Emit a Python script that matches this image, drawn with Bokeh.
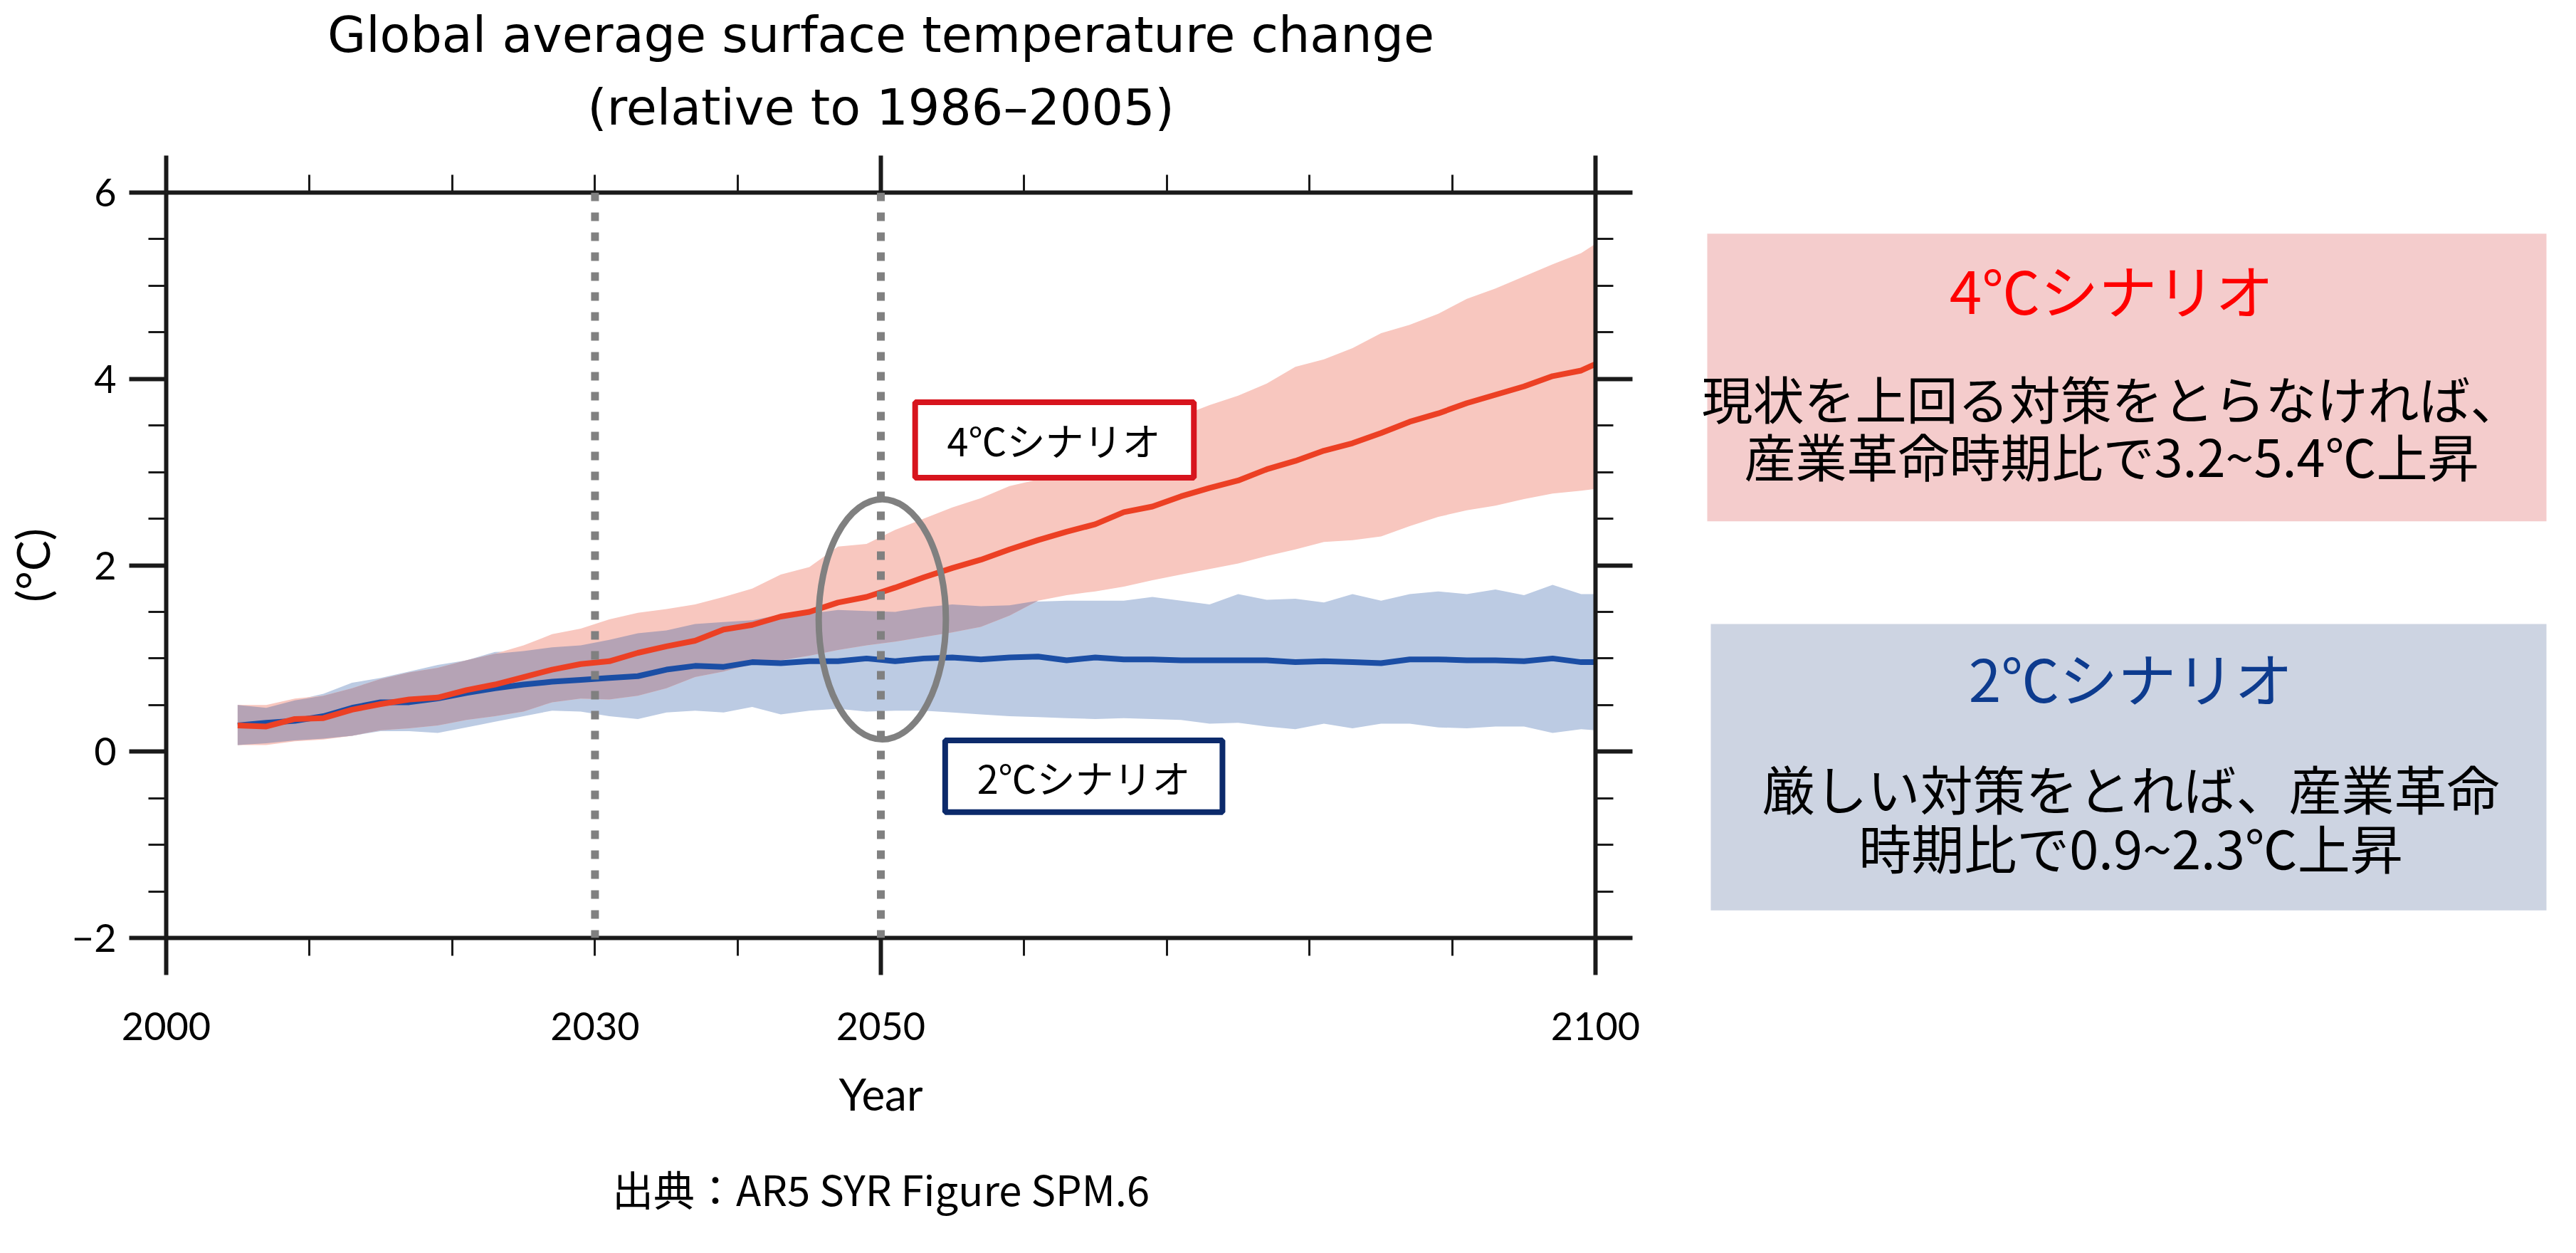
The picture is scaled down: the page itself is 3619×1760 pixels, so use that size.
import numpy as np
from bokeh.plotting import figure
from bokeh.models import (Range1d, LinearAxis, FixedTicker, Span, Label, Title,
                          BoxAnnotation, CustomJSTickFormatter)
from bokeh.layouts import row
from bokeh.embed import file_html
from bokeh.resources import INLINE

# ---------------- data ----------------
years = [2005, 2007, 2009, 2011, 2013, 2015, 2017, 2019, 2021, 2023, 2025, 2027, 2029,
         2031, 2033, 2035, 2037, 2039, 2041, 2043, 2045, 2047, 2049,
         2051, 2053, 2055, 2057, 2059, 2061, 2063, 2065, 2067, 2069,
         2071, 2073, 2075, 2077, 2079, 2081, 2083, 2085, 2087, 2089,
         2091, 2093, 2095, 2097, 2099, 2100]

rcp85_mean = [0.28, 0.27, 0.35, 0.36, 0.45, 0.51, 0.56, 0.58, 0.66, 0.72, 0.80, 0.88, 0.94,
              0.97, 1.06, 1.13, 1.19, 1.31, 1.36, 1.45, 1.50, 1.60, 1.66,
              1.76, 1.87, 1.97, 2.06, 2.17, 2.27, 2.36, 2.44, 2.57, 2.63,
              2.74, 2.83, 2.91, 3.03, 3.12, 3.23, 3.31, 3.42, 3.54, 3.63,
              3.74, 3.83, 3.92, 4.03, 4.09, 4.16]
rcp85_upper = [0.50, 0.50, 0.57, 0.60, 0.68, 0.78, 0.85, 0.90, 0.98, 1.05, 1.14, 1.26, 1.32,
               1.42, 1.49, 1.53, 1.58, 1.66, 1.75, 1.90, 1.98, 2.20, 2.23,
               2.38, 2.50, 2.62, 2.72, 2.85, 2.92, 3.05, 3.18, 3.30, 3.43,
               3.60, 3.72, 3.82, 3.95, 4.13, 4.21, 4.33, 4.49, 4.58, 4.70,
               4.86, 4.97, 5.10, 5.23, 5.35, 5.45]
rcp85_lower = [0.07, 0.07, 0.11, 0.13, 0.17, 0.23, 0.25, 0.28, 0.34, 0.38, 0.43, 0.53, 0.57,
               0.56, 0.60, 0.68, 0.80, 0.86, 0.94, 0.98, 1.03, 1.09, 1.14,
               1.18, 1.23, 1.28, 1.34, 1.46, 1.62, 1.68, 1.72, 1.77, 1.84,
               1.90, 1.96, 2.02, 2.10, 2.17, 2.25, 2.27, 2.31, 2.42, 2.52,
               2.59, 2.64, 2.71, 2.77, 2.80, 2.82]

rcp26_mean = [0.28, 0.31, 0.33, 0.38, 0.47, 0.53, 0.53, 0.57, 0.63, 0.68, 0.72, 0.75, 0.77,
              0.79, 0.81, 0.88, 0.92, 0.91, 0.96, 0.95, 0.97, 0.97, 1.00,
              0.97, 1.00, 1.01, 0.99, 1.01, 1.02, 0.98, 1.01, 0.99, 0.99,
              0.98, 0.98, 0.98, 0.98, 0.96, 0.97, 0.96, 0.95, 0.99, 0.99,
              0.98, 0.98, 0.97, 1.00, 0.96, 0.96]
rcp26_upper = [0.50, 0.47, 0.55, 0.62, 0.74, 0.79, 0.86, 0.93, 0.98, 1.07, 1.08, 1.12, 1.14,
               1.20, 1.27, 1.30, 1.37, 1.39, 1.41, 1.47, 1.48, 1.52, 1.51,
               1.50, 1.55, 1.58, 1.56, 1.57, 1.61, 1.62, 1.62, 1.62, 1.66,
               1.62, 1.58, 1.69, 1.63, 1.64, 1.60, 1.69, 1.62, 1.69, 1.72,
               1.69, 1.74, 1.68, 1.79, 1.69, 1.69]
rcp26_lower = [0.07, 0.09, 0.12, 0.14, 0.17, 0.22, 0.22, 0.20, 0.26, 0.32, 0.38, 0.44, 0.43,
               0.38, 0.35, 0.42, 0.44, 0.42, 0.48, 0.40, 0.44, 0.46, 0.43,
               0.44, 0.44, 0.42, 0.40, 0.38, 0.37, 0.36, 0.35, 0.36, 0.35,
               0.34, 0.30, 0.31, 0.27, 0.24, 0.30, 0.25, 0.30, 0.30, 0.26,
               0.25, 0.27, 0.27, 0.20, 0.24, 0.23]

x_major_ticks = [2000, 2050, 2100]
x_minor_ticks = [2010, 2020, 2030, 2040, 2060, 2070, 2080, 2090]
x_label_ticks = [2000, 2030, 2050, 2100]
x_tick_labels = ["2000", "2030", "2050", "2100"]
y_major_ticks = [-2, 0, 2, 4, 6]
y_minor_ticks = [-1.5, -1, -0.5, 0.5, 1, 1.5, 2.5, 3, 3.5, 4.5, 5, 5.5]
y_tick_labels = ["\u22122", "0", "2", "4", "6"]
marker_years = [2030, 2050]

title_lines = ["Global average surface temperature change", "(relative to 1986\u20132005)"]
source_text = "出典：AR5 SYR Figure SPM.6"
label_4c = "4℃シナリオ"
label_2c = "2℃シナリオ"
panel_4c = ["4℃シナリオ", "現状を上回る対策をとらなければ、", "産業革命時期比で3.2~5.4℃上昇"]
panel_2c = ["2℃シナリオ", "厳しい対策をとれば、産業革命", "時期比で0.9~2.3℃上昇"]

# ---------------- colours ----------------
RED_BAND = "#f8c7bf"
BLUE_BAND = "#bccbe3"
OVERLAP = "#b5a3b5"
RED_LINE = "#ec4024"
BLUE_LINE = "#1b4ea5"
GRAY = "#808080"
AXIS = "#1a1a1a"
CJK = "Noto Sans CJK JP"

# ---------------- chart ----------------
p = figure(width=2330, height=1760, x_range=Range1d(2000, 2100), y_range=Range1d(-2, 6),
           output_backend="svg", toolbar_location=None, title=None,
           min_border_left=233, min_border_right=89, min_border_top=270, min_border_bottom=438)
p.outline_line_color = None
p.grid.visible = False
p.background_fill_color = "white"
p.border_fill_color = "white"


def tick_style(ax):
    ax.axis_line_width = 6
    ax.axis_line_color = AXIS
    ax.major_tick_line_width = 6
    ax.major_tick_line_color = AXIS
    ax.major_tick_out = 52
    ax.major_tick_in = 0
    ax.minor_tick_line_width = 3
    ax.minor_tick_line_color = AXIS
    ax.minor_tick_out = 25
    ax.minor_tick_in = 0


def hide_labels(ax):
    ax.formatter = CustomJSTickFormatter(code="return ''")
    ax.major_label_text_font_size = "1px"
    ax.major_label_text_color = None
    ax.major_label_standoff = 0


xticker = FixedTicker(ticks=x_major_ticks, minor_ticks=x_minor_ticks)
yticker = FixedTicker(ticks=y_major_ticks, minor_ticks=y_minor_ticks)

# bottom tick axis (no labels)
xa = p.xaxis[0]
xa.ticker = xticker
tick_style(xa)
hide_labels(xa)

# bottom label axis
xb = LinearAxis(ticker=FixedTicker(ticks=x_label_ticks, minor_ticks=[]))
xb.axis_line_color = None
xb.major_tick_line_color = None
xb.minor_tick_line_color = None
xb.major_tick_out = 0
xb.major_tick_in = 0
xb.minor_tick_out = 0
xb.minor_tick_in = 0
xb.major_label_overrides = {t: s for t, s in zip(x_label_ticks, x_tick_labels)}
xb.major_label_text_font = "Lato"
xb.major_label_text_font_size = "54px"
xb.major_label_text_color = "black"
xb.major_label_standoff = 52
xb.axis_label = "Year"
xb.axis_label_text_font = "Lato"
xb.axis_label_text_font_size = "62px"
xb.axis_label_text_font_style = "normal"
xb.axis_label_text_color = "black"
xb.axis_label_standoff = 35
p.add_layout(xb, "below")

# top axis
xt = LinearAxis(ticker=xticker)
tick_style(xt)
hide_labels(xt)
p.add_layout(xt, "above")

# left axis
ya = p.yaxis[0]
ya.ticker = yticker
tick_style(ya)
ya.major_label_overrides = {t: s for t, s in zip(y_major_ticks, y_tick_labels)}
ya.major_label_text_font = "Lato"
ya.major_label_text_font_size = "54px"
ya.major_label_text_color = "black"
ya.major_label_standoff = 18
ya.axis_label = "(°C)"
ya.axis_label_text_font = "Lato"
ya.axis_label_text_font_size = "64px"
ya.axis_label_text_font_style = "normal"
ya.axis_label_text_color = "black"
ya.axis_label_standoff = 14

# right axis
yr = LinearAxis(ticker=yticker)
tick_style(yr)
hide_labels(yr)
p.add_layout(yr, "right")

# titles (line 2 first: nearest to the frame) and source
p.add_layout(Title(text=title_lines[1], align="center", text_font="DejaVu Sans",
                   text_font_size="70px", text_font_style="normal", text_color="black",
                   standoff=53), "above")
p.add_layout(Title(text=title_lines[0], align="center", text_font="DejaVu Sans",
                   text_font_size="70px", text_font_style="normal", text_color="black",
                   standoff=-16), "above")
p.add_layout(Title(text=source_text, align="center", text_font=CJK,
                   text_font_size="58px", text_font_style="normal", text_color="black",
                   standoff=99), "below")

# bands
p.varea(x=years, y1=rcp26_lower, y2=rcp26_upper, fill_color=BLUE_BAND)
p.varea(x=years, y1=rcp85_lower, y2=rcp85_upper, fill_color=RED_BAND)
ov_lo = np.maximum(np.array(rcp85_lower), np.array(rcp26_lower))
ov_hi = np.maximum(np.minimum(np.array(rcp85_upper), np.array(rcp26_upper)), ov_lo)
p.varea(x=years, y1=ov_lo, y2=ov_hi, fill_color=OVERLAP)

# mean lines
p.line(years, rcp26_mean, line_color=BLUE_LINE, line_width=8)
p.line(years, rcp85_mean, line_color=RED_LINE, line_width=8)

# highlight ellipse around 2050
p.ellipse(x=[2050.1], y=[1.42], width=[8.9], height=[2.58], fill_color=None,
          line_color=GRAY, line_width=9)

# dotted marker lines
for yr_ in marker_years:
    p.add_layout(Span(location=yr_, dimension="height", line_color=GRAY,
                      line_width=11, line_dash="12 16"))

# scenario boxes inside the chart
p.add_layout(BoxAnnotation(left=2052.4, right=2071.9, bottom=2.94, top=3.75,
                           fill_color="white", fill_alpha=1.0,
                           line_color="#d7141d", line_alpha=1.0, line_width=8))
p.add_layout(Label(x=2062.1, y=3.35, text=label_4c, text_align="center",
                   text_baseline="middle", text_font=CJK, text_font_size="54px",
                   text_color="black"))
p.add_layout(BoxAnnotation(left=2054.5, right=2073.9, bottom=-0.65, top=0.12,
                           fill_color="white", fill_alpha=1.0,
                           line_color="#0c2a6b", line_alpha=1.0, line_width=8))
p.add_layout(Label(x=2064.2, y=-0.27, text=label_2c, text_align="center",
                   text_baseline="middle", text_font=CJK, text_font_size="54px",
                   text_color="black"))

# ---------------- right panels (page pixel coordinates inside the frame) ----------------
q = figure(width=1289, height=1760, x_range=Range1d(0, 1289), y_range=Range1d(1322, 270),
           output_backend="svg", toolbar_location=None, title=None,
           x_axis_location=None, y_axis_location=None,
           min_border_left=0, min_border_right=0, min_border_top=270, min_border_bottom=438)
q.outline_line_color = None
q.grid.visible = False
q.background_fill_color = "white"
q.border_fill_color = "white"

q.add_layout(BoxAnnotation(left=68, right=1247, top=328, bottom=734,
                           fill_color="#f4cccc", fill_alpha=1.0, line_alpha=0))
q.add_layout(BoxAnnotation(left=73, right=1247, top=879, bottom=1283,
                           fill_color="#cdd4e2", fill_alpha=1.0, line_alpha=0))

for txt, yy, col, fs in zip(panel_4c, [406, 558, 640], ["#ff0000", "black", "black"],
                            ["82px", "72px", "72px"]):
    q.add_layout(Label(x=636, y=yy, text=txt, text_align="center", text_baseline="middle",
                       text_font=CJK, text_font_size=fs, text_color=col))
for txt, yy, col, fs in zip(panel_2c, [953, 1109, 1192], ["#0d3b8e", "black", "black"],
                            ["82px", "74px", "74px"]):
    q.add_layout(Label(x=663, y=yy, text=txt, text_align="center", text_baseline="middle",
                       text_font=CJK, text_font_size=fs, text_color=col))

layout = row(p, q)
open("out.html", "w").write(file_html(layout, INLINE))
